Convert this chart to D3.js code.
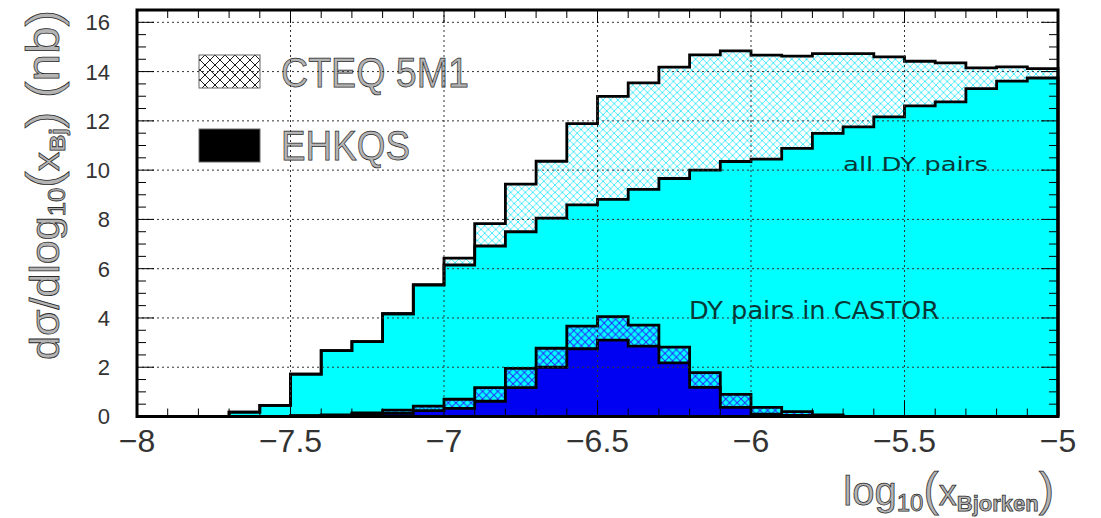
<!DOCTYPE html>
<html><head><meta charset="utf-8">
<script src="https://cdn.jsdelivr.net/npm/d3@7"></script>
<style>body{margin:0;background:#fff}svg{display:block}</style>
</head><body>
<svg id="c" width="1101" height="518"></svg>
<script>
// bin edges of log10(x_Bjorken)
const binEdges = [-8.0,-7.9,-7.8,-7.7,-7.6,-7.5,-7.4,-7.3,-7.2,-7.1,-7.0,-6.9,-6.8,-6.7,-6.6,-6.5,-6.4,-6.3,-6.2,-6.1,-6.0,-5.9,-5.8,-5.7,-5.6,-5.5,-5.4,-5.3,-5.2,-5.1,-5.0];
// all DY pairs
const allCTEQ  = [0,0,0,0.18,0.45,1.72,2.67,3.04,4.17,5.35,6.43,7.83,9.43,10.36,11.89,12.99,13.54,14.18,14.68,14.84,14.67,14.63,14.73,14.73,14.60,14.42,14.35,14.15,14.19,14.12];
const allEHKQS = [0,0,0,0.18,0.45,1.72,2.67,3.04,4.17,5.33,6.15,6.92,7.50,8.05,8.59,8.81,9.22,9.66,10.00,10.35,10.45,10.88,11.49,11.76,12.16,12.61,12.77,13.31,13.61,13.74];
// DY pairs in CASTOR
const castorCTEQ  = [0,0,0,0,0,0.03,0.06,0.15,0.26,0.42,0.70,1.17,1.95,2.77,3.67,4.05,3.71,2.82,1.78,0.90,0.37,0.20,0.06,0,0,0,0,0,0,0];
const castorEHKQS = [0,0,0,0,0,0.02,0.04,0.08,0.13,0.24,0.33,0.62,1.17,2.00,2.75,3.10,2.86,2.18,1.18,0.37,0.10,0.04,0.02,0,0,0,0,0,0,0];
const xTicks = [-8,-7.5,-7,-6.5,-6,-5.5,-5];
const xTickLabels = ["\u22128","\u22127.5","\u22127","\u22126.5","\u22126","\u22125.5","\u22125"];
const yTicks = [0,2,4,6,8,10,12,14,16];
const legendLabels = ["CTEQ 5M1","EHKQS"];

const svg = d3.select("#c");
const L = 137, R = 1058, T = 10, B = 416.5;
const x = d3.scaleLinear().domain([-8,-5]).range([L,R]);
const y = d3.scaleLinear().domain([0,16.5]).range([B,T]);

// patterns
const defs = svg.append("defs");
function hatch(id, bg, col, p, w){
  const pt = defs.append("pattern").attr("id",id).attr("patternUnits","userSpaceOnUse")
    .attr("width",p).attr("height",p);
  if(bg) pt.append("rect").attr("width",p).attr("height",p).attr("fill",bg);
  pt.append("path").attr("d",`M0,0L${p},${p}M0,${p}L${p},0M${-p/2},${p/2}L${p/2},${-p/2}M${p/2},${p*1.5}L${p*1.5},${p/2}M${-p/2},${p/2}L${p/2},${p*1.5}M${p/2},${-p/2}L${p*1.5},${p/2}`)
    .attr("stroke",col).attr("stroke-width",w).attr("fill","none");
}
hatch("hCyan","#fff","#33e8ff",7.4,0.9);
hatch("hBlue","#00ffff","#2a2aff",7.6,1);
hatch("hBlack","#fff","#000",10,0.9);

function histPath(vals){
  let d = `M${x(binEdges[0])},${y(0)}`;
  vals.forEach((v,i)=>{ d += `L${x(binEdges[i])},${y(v)}L${x(binEdges[i+1])},${y(v)}`; });
  d += `L${x(binEdges[vals.length])},${y(0)}`;
  return d;
}
function drawHist(vals, fill){
  svg.append("path").attr("d",histPath(vals)+"Z").attr("fill",fill).attr("stroke","none");
}
function drawOutline(vals){
  svg.append("path").attr("d",histPath(vals)).attr("fill","none").attr("stroke","#000").attr("stroke-width",2.8).attr("stroke-linejoin","miter");
}
drawHist(allCTEQ,"url(#hCyan)");
drawHist(allEHKQS,"#00ffff");
drawOutline(allCTEQ);
drawOutline(allEHKQS);
drawHist(castorCTEQ,"url(#hBlue)");
drawHist(castorEHKQS,"#0000f2");
drawOutline(castorCTEQ);
drawOutline(castorEHKQS);

// legend
svg.append("rect").attr("x",199).attr("y",55).attr("width",61).attr("height",33).attr("fill","url(#hBlack)").attr("stroke","#666").attr("stroke-width",1);
svg.append("rect").attr("x",199).attr("y",129).attr("width",61).attr("height",33).attr("fill","#000").attr("stroke","#666").attr("stroke-width",1);
const ltxt = {fill:"#b4b4b4", stroke:"#2a2a2a", sw:0.75};
svg.append("text").attr("x",281).attr("y",87).attr("font-family","Liberation Sans, Arial, sans-serif").attr("font-size",42)
  .attr("textLength",188).attr("lengthAdjust","spacingAndGlyphs").attr("fill",ltxt.fill).attr("stroke",ltxt.stroke).attr("stroke-width",ltxt.sw).text(legendLabels[0]);
svg.append("text").attr("x",281).attr("y",160).attr("font-family","Liberation Sans, Arial, sans-serif").attr("font-size",42)
  .attr("textLength",129).attr("lengthAdjust","spacingAndGlyphs").attr("fill",ltxt.fill).attr("stroke",ltxt.stroke).attr("stroke-width",ltxt.sw).text(legendLabels[1]);

// in-plot labels
svg.append("text").attr("x",843).attr("y",171).attr("font-family","DejaVu Sans, sans-serif").attr("font-size",20)
  .attr("textLength",145).attr("lengthAdjust","spacingAndGlyphs").attr("fill","#063838").text("all DY pairs");
svg.append("text").attr("x",689).attr("y",318.5).attr("font-family","DejaVu Sans, sans-serif").attr("font-size",24)
  .attr("textLength",250).attr("lengthAdjust","spacingAndGlyphs").attr("fill","#063838").text("DY pairs in CASTOR");

// grid
const g = svg.append("g").attr("stroke","#333").attr("stroke-width",1).attr("stroke-dasharray","2,3");
xTicks.slice(1,-1).forEach(t=> g.append("line").attr("x1",x(t)).attr("x2",x(t)).attr("y1",T).attr("y2",B));
yTicks.slice(1).forEach(t=> g.append("line").attr("x1",L).attr("x2",R).attr("y1",y(t)).attr("y2",y(t)));

// ticks (all four sides, inward)
const tk = svg.append("g").attr("stroke","#000").attr("stroke-width",1);
const xMinor = d3.range(-8,-4.99,0.1);
xMinor.forEach((t,i)=>{
  const major = i%5===0; const len = major?16:8;
  tk.append("line").attr("x1",x(t)).attr("x2",x(t)).attr("y1",B).attr("y2",B-len);
  tk.append("line").attr("x1",x(t)).attr("x2",x(t)).attr("y1",T).attr("y2",T+(major?13:8));
});
const yMinor = d3.range(0,16.51,0.5);
yMinor.forEach((t,i)=>{
  const major = i%4===0; const len = major?17:9;
  tk.append("line").attr("x1",L).attr("x2",L+len).attr("y1",y(t)).attr("y2",y(t));
  tk.append("line").attr("x1",R).attr("x2",R-len).attr("y1",y(t)).attr("y2",y(t));
});

// frame
svg.append("rect").attr("x",L).attr("y",T).attr("width",R-L).attr("height",B-T).attr("fill","none").attr("stroke","#000").attr("stroke-width",3);

// tick labels
const font = "Liberation Sans, Arial, sans-serif";
svg.append("g").selectAll("text").data(xTicks).join("text")
  .attr("x",d=>x(d)).attr("y",452).attr("text-anchor","middle").attr("font-family",font).attr("font-size",32)
  .attr("fill","#333").text((d,i)=>xTickLabels[i]);
svg.append("g").selectAll("text").data(yTicks).join("text")
  .attr("x",110).attr("y",d=>y(d)).attr("dy","0.36em").attr("text-anchor","end").attr("font-family",font).attr("font-size",22)
  .attr("fill","#333").text(d=>d);

// axis titles
const xt = svg.append("text").attr("x",1054).attr("y",505).attr("text-anchor","end").attr("font-family",font).attr("font-size",40)
  .attr("fill",ltxt.fill).attr("stroke",ltxt.stroke).attr("stroke-width",ltxt.sw);
xt.append("tspan").text("log");
xt.append("tspan").attr("font-size",24).attr("dy",6).text("10");
xt.append("tspan").attr("font-size",46).attr("dy",-6).text("(");
xt.append("tspan").attr("font-size",36).text("x");
xt.append("tspan").attr("font-size",22).attr("dy",6).attr("font-weight","bold").text("Bjorken");
xt.append("tspan").attr("font-size",46).attr("dy",-6).text(")");

const yt = svg.append("text").attr("transform","translate(59,360) rotate(-90)").attr("font-family",font).attr("font-size",40)
  .attr("textLength",350).attr("lengthAdjust","spacingAndGlyphs")
  .attr("fill",ltxt.fill).attr("stroke",ltxt.stroke).attr("stroke-width",ltxt.sw);
yt.append("tspan").text("d\u03c3/dlog");
yt.append("tspan").attr("font-size",24).attr("dy",6).text("10");
yt.append("tspan").attr("font-size",46).attr("dy",-6).text("(");
yt.append("tspan").attr("font-size",36).text("x");
yt.append("tspan").attr("font-size",22).attr("dy",6).attr("font-weight","bold").text("Bj");
yt.append("tspan").attr("font-size",46).attr("dy",-6).text(") (nb)");
</script>
</body></html>
